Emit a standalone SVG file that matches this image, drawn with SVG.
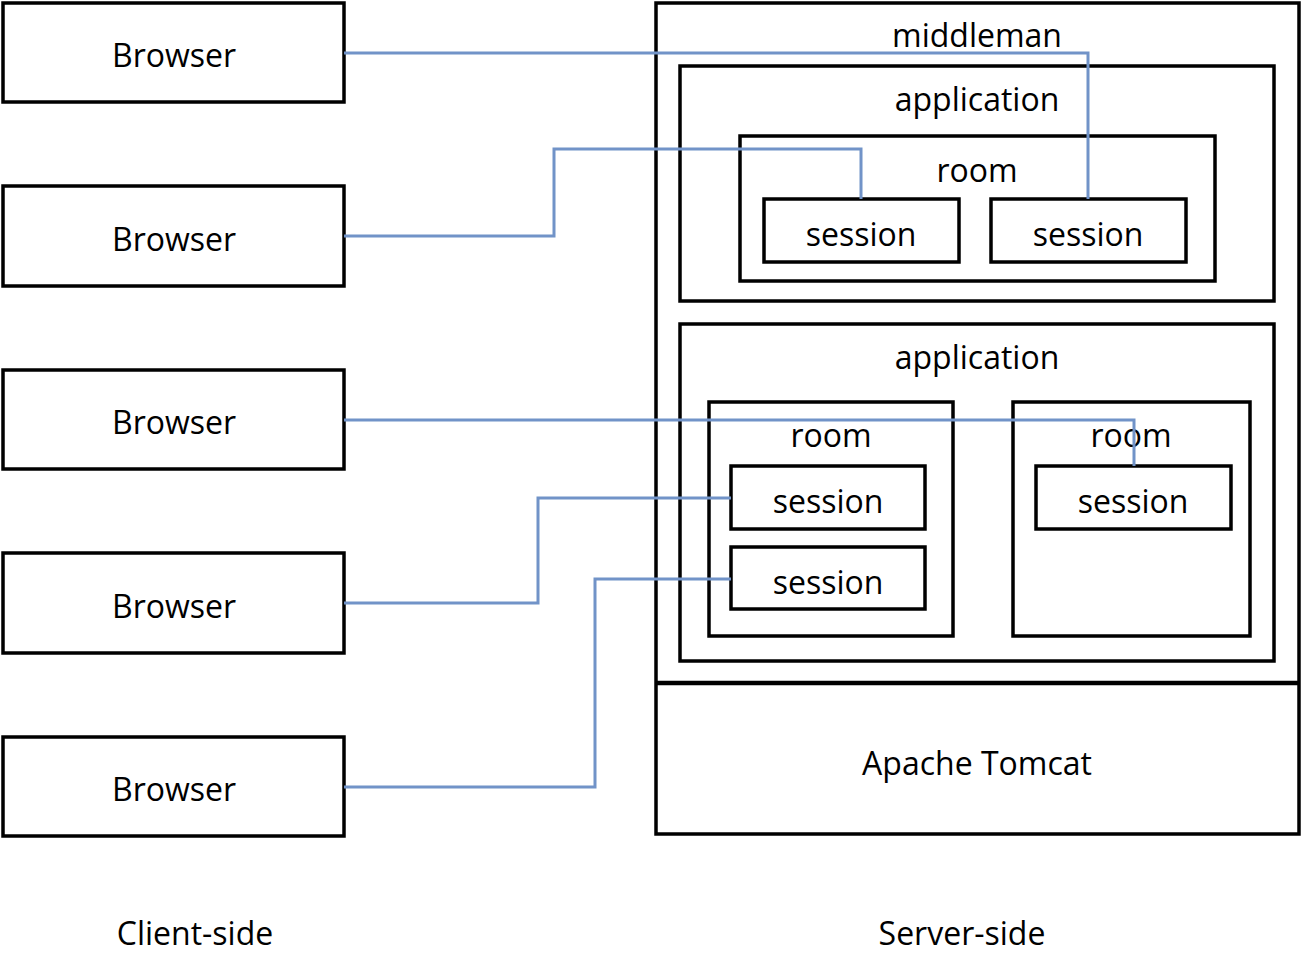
<svg xmlns="http://www.w3.org/2000/svg" width="1302" height="960" viewBox="0 0 1302 960">
<style>
.box{fill:none;stroke:#000;stroke-width:3.5}
.t{font-family:"Open Sans","Noto Sans",sans-serif;font-size:32px;fill:#000;text-anchor:middle}
.c{fill:none;stroke:#7193c8;stroke-width:3}
</style>
<rect width="1302" height="960" fill="#fff"/>
<g id="browser1"><rect class="box" x="3" y="3" width="341" height="99"/><text class="t" x="174" y="67">Browser</text></g>
<g id="browser2"><rect class="box" x="3" y="186" width="341" height="100"/><text class="t" x="174" y="251">Browser</text></g>
<g id="browser3"><rect class="box" x="3" y="370" width="341" height="99"/><text class="t" x="174" y="434">Browser</text></g>
<g id="browser4"><rect class="box" x="3" y="553" width="341" height="100"/><text class="t" x="174" y="618">Browser</text></g>
<g id="browser5"><rect class="box" x="3" y="737" width="341" height="99"/><text class="t" x="174" y="801">Browser</text></g>
<g id="server"><rect class="box" x="656" y="3" width="643" height="831"/><line x1="656" y1="683" x2="1299" y2="683" stroke="#000" stroke-width="4.5"/></g>
<g id="middleman"><text class="t" x="977" y="47">middleman</text></g>
<g id="application1"><rect class="box" x="680" y="66" width="594" height="235"/><text class="t" x="977" y="111">application</text></g>
<g id="room1"><rect class="box" x="740" y="136" width="475" height="145"/><text class="t" x="977" y="182">room</text></g>
<g id="session1"><rect class="box" x="764" y="199" width="195" height="63"/><text class="t" x="861" y="246">session</text></g>
<g id="session2"><rect class="box" x="991" y="199" width="195" height="63"/><text class="t" x="1088" y="246">session</text></g>
<g id="application2"><rect class="box" x="680" y="324" width="594" height="337"/><text class="t" x="977" y="369">application</text></g>
<g id="room2"><rect class="box" x="709" y="402" width="244" height="234"/><text class="t" x="831" y="447">room</text></g>
<g id="session3"><rect class="box" x="731" y="466" width="194" height="63"/><text class="t" x="828" y="513">session</text></g>
<g id="session4"><rect class="box" x="731" y="547" width="194" height="62"/><text class="t" x="828" y="594">session</text></g>
<g id="room3"><rect class="box" x="1013" y="402" width="237" height="234"/><text class="t" x="1131" y="447">room</text></g>
<g id="session5"><rect class="box" x="1036" y="466" width="195" height="63"/><text class="t" x="1133" y="513">session</text></g>
<g id="tomcat"><text class="t" x="977" y="775">Apache Tomcat</text></g>
<g id="labels"><text class="t" x="195" y="945">Client-side</text><text class="t" x="962" y="945">Server-side</text></g>
<g id="connectors">
<polyline class="c" points="344,53 1088,53 1088,199"/>
<polyline class="c" points="344,236 554,236 554,149 861,149 861,199"/>
<polyline class="c" points="344,420 1134,420 1134,466"/>
<polyline class="c" points="344,603 538,603 538,498 731,498"/>
<polyline class="c" points="344,787 595,787 595,579 731,579"/>
</g>
</svg>
